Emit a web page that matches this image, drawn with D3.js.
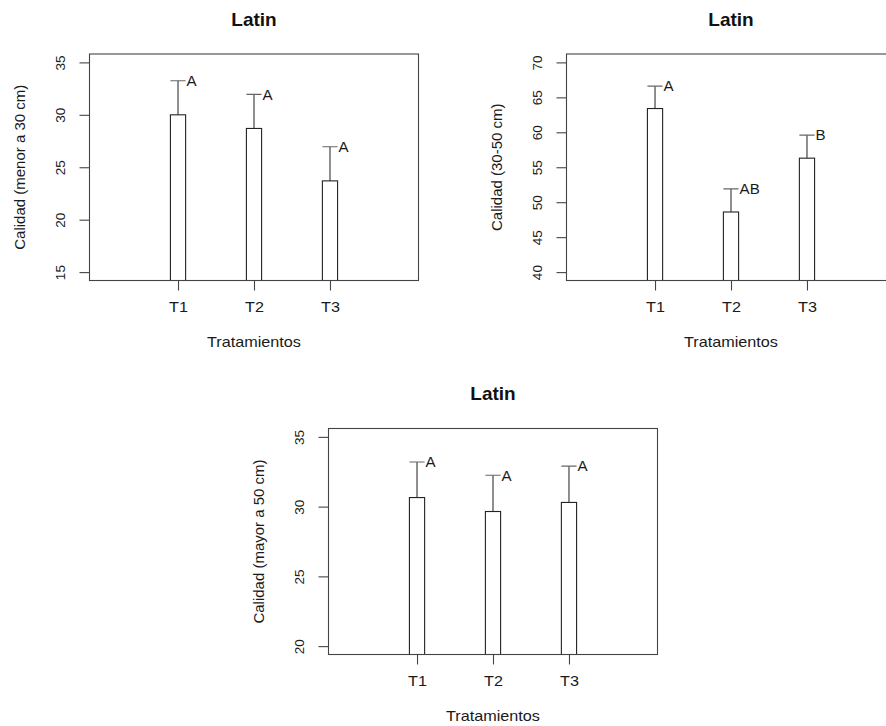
<!DOCTYPE html>
<html>
<head>
<meta charset="utf-8">
<script src="https://cdn.jsdelivr.net/npm/d3@7"></script>
<style>
  html, body { margin: 0; padding: 0; background: #fff; }
  svg { display: block; font-family: "Liberation Sans", Arial, sans-serif; }
</style>
</head>
<body>
<svg id="chart" width="886" height="726"></svg>
<script>
// Treatments shown on every panel
const categories = ["T1", "T2", "T3"];

// Quality below 30 cm: means, top of error bar, significance letters
const menor30Means = [30.0, 28.7, 23.7];
const menor30Upper = [33.25, 31.95, 26.95];
const menor30Letters = ["A", "A", "A"];
const menor30Ticks = [15, 20, 25, 30, 35];

// Quality 30-50 cm
const medioMeans = [63.4, 48.6, 56.3];
const medioUpper = [66.6, 51.9, 59.6];
const medioLetters = ["A", "AB", "B"];
const medioTicks = [40, 45, 50, 55, 60, 65, 70];

// Quality above 50 cm
const mayor50Means = [30.65, 29.65, 30.3];
const mayor50Upper = [33.2, 32.25, 32.9];
const mayor50Letters = ["A", "A", "A"];
const mayor50Ticks = [20, 25, 30, 35];

const svg = d3.select("#chart");
svg.append("rect").attr("width", 886).attr("height", 726).attr("fill", "#fff");

const panels = [
  { id: "p1", box: { l: 89.5, r: 418.5, t: 54, b: 280.5 }, means: menor30Means, upper: menor30Upper,
    letters: menor30Letters, ticks: menor30Ticks, ylab: "Calidad (menor a 30 cm)" },
  { id: "p2", box: { l: 566.5, r: 895.5, t: 54, b: 280.5 }, means: medioMeans, upper: medioUpper,
    letters: medioLetters, ticks: medioTicks, ylab: "Calidad (30-50 cm)" },
  { id: "p3", box: { l: 328.5, r: 657.5, t: 428.5, b: 654.5 }, means: mayor50Means, upper: mayor50Upper,
    letters: mayor50Letters, ticks: mayor50Ticks, ylab: "Calidad (mayor a 50 cm)" }
];

const textColor = "#1a1a1a";
const axisColor = "#444";
const wide = "scale(1.08,1)";   // slightly widened horizontal labels

panels.forEach(p => {
  const { l, r, t, b } = p.box;
  const lo = d3.min(p.ticks), hi = d3.max(p.ticks);
  const pad = (hi - lo) * 0.04;

  const x = d3.scalePoint().domain(categories).range([l, r]).padding(1.165);
  const y = d3.scaleLinear().domain([lo - pad, hi + pad]).range([b, t]);
  const barW = x.step() * 0.2;

  const g = svg.append("g");

  g.append("clipPath").attr("id", "clip-" + p.id)
    .append("rect").attr("x", l).attr("y", t).attr("width", r - l).attr("height", b - t);

  const plot = g.append("g").attr("clip-path", `url(#clip-${p.id})`);

  // bars
  plot.selectAll("rect.bar").data(categories).join("rect")
    .attr("class", "bar")
    .attr("x", d => x(d) - barW / 2)
    .attr("y", (d, i) => y(p.means[i]))
    .attr("width", barW)
    .attr("height", (d, i) => y.range()[0] - y(p.means[i]) + 2)
    .attr("fill", "#fff")
    .attr("stroke", "#222")
    .attr("stroke-width", 1.1);

  // error bars: stem and cap
  plot.selectAll("line.stem").data(categories).join("line")
    .attr("class", "stem")
    .attr("x1", d => x(d)).attr("x2", d => x(d))
    .attr("y1", (d, i) => y(p.means[i]))
    .attr("y2", (d, i) => y(p.upper[i]))
    .attr("stroke", "#333").attr("stroke-width", 1.1);

  plot.selectAll("line.cap").data(categories).join("line")
    .attr("class", "cap")
    .attr("x1", d => x(d) - barW / 2).attr("x2", d => x(d) + barW / 2)
    .attr("y1", (d, i) => y(p.upper[i]))
    .attr("y2", (d, i) => y(p.upper[i]))
    .attr("stroke", "#666").attr("stroke-width", 1.1);

  // significance letters
  g.selectAll("text.letter").data(categories).join("text")
    .attr("class", "letter")
    .attr("transform", (d, i) => `translate(${x(d) + barW / 2 + 1},${y(p.upper[i])}) ${wide}`)
    .attr("dy", "0.38em")
    .attr("font-size", 14)
    .attr("fill", textColor)
    .text((d, i) => p.letters[i]);

  // frame
  g.append("rect")
    .attr("x", l).attr("y", t).attr("width", r - l).attr("height", b - t)
    .attr("fill", "none").attr("stroke", axisColor).attr("stroke-width", 1.1);

  // y axis
  const yAxis = g.append("g").attr("transform", `translate(${l},0)`)
    .call(d3.axisLeft(y).tickValues(p.ticks).tickSize(10).tickFormat(d3.format("d")));
  yAxis.select(".domain").remove();
  yAxis.selectAll(".tick line").attr("stroke", axisColor).attr("stroke-width", 1.1);
  yAxis.selectAll(".tick text")
    .attr("x", null).attr("dy", null)
    .attr("transform", "translate(-29,0) rotate(-90)")
    .attr("text-anchor", "middle")
    .attr("dominant-baseline", "central")
    .attr("font-size", 13.5)
    .attr("font-family", "Liberation Sans, Arial, sans-serif")
    .attr("fill", textColor);

  // x axis
  const xAxis = g.append("g").attr("transform", `translate(0,${b})`)
    .call(d3.axisBottom(x).tickSize(10));
  xAxis.select(".domain").remove();
  xAxis.selectAll(".tick line").attr("stroke", axisColor).attr("stroke-width", 1.1);
  xAxis.selectAll(".tick text")
    .attr("y", 26).attr("dy", "0.36em")
    .attr("transform", wide)
    .attr("font-size", 15)
    .attr("font-family", "Liberation Sans, Arial, sans-serif")
    .attr("fill", textColor);

  // titles
  g.append("text")
    .attr("x", (l + r) / 2).attr("y", t - 35).attr("dy", "0.36em")
    .attr("text-anchor", "middle").attr("font-size", 19).attr("font-weight", "bold")
    .attr("fill", "#111").text("Latin");

  g.append("text")
    .attr("transform", `translate(${(l + r) / 2},${b + 61}) ${wide}`)
    .attr("dy", "0.36em")
    .attr("text-anchor", "middle").attr("font-size", 15)
    .attr("fill", textColor).text("Tratamientos");

  g.append("text")
    .attr("transform", `translate(${l - 70},${(t + b) / 2}) rotate(-90)`)
    .attr("text-anchor", "middle").attr("dominant-baseline", "central")
    .attr("font-size", 15)
    .attr("fill", textColor).text(p.ylab);
});
</script>
</body>
</html>
